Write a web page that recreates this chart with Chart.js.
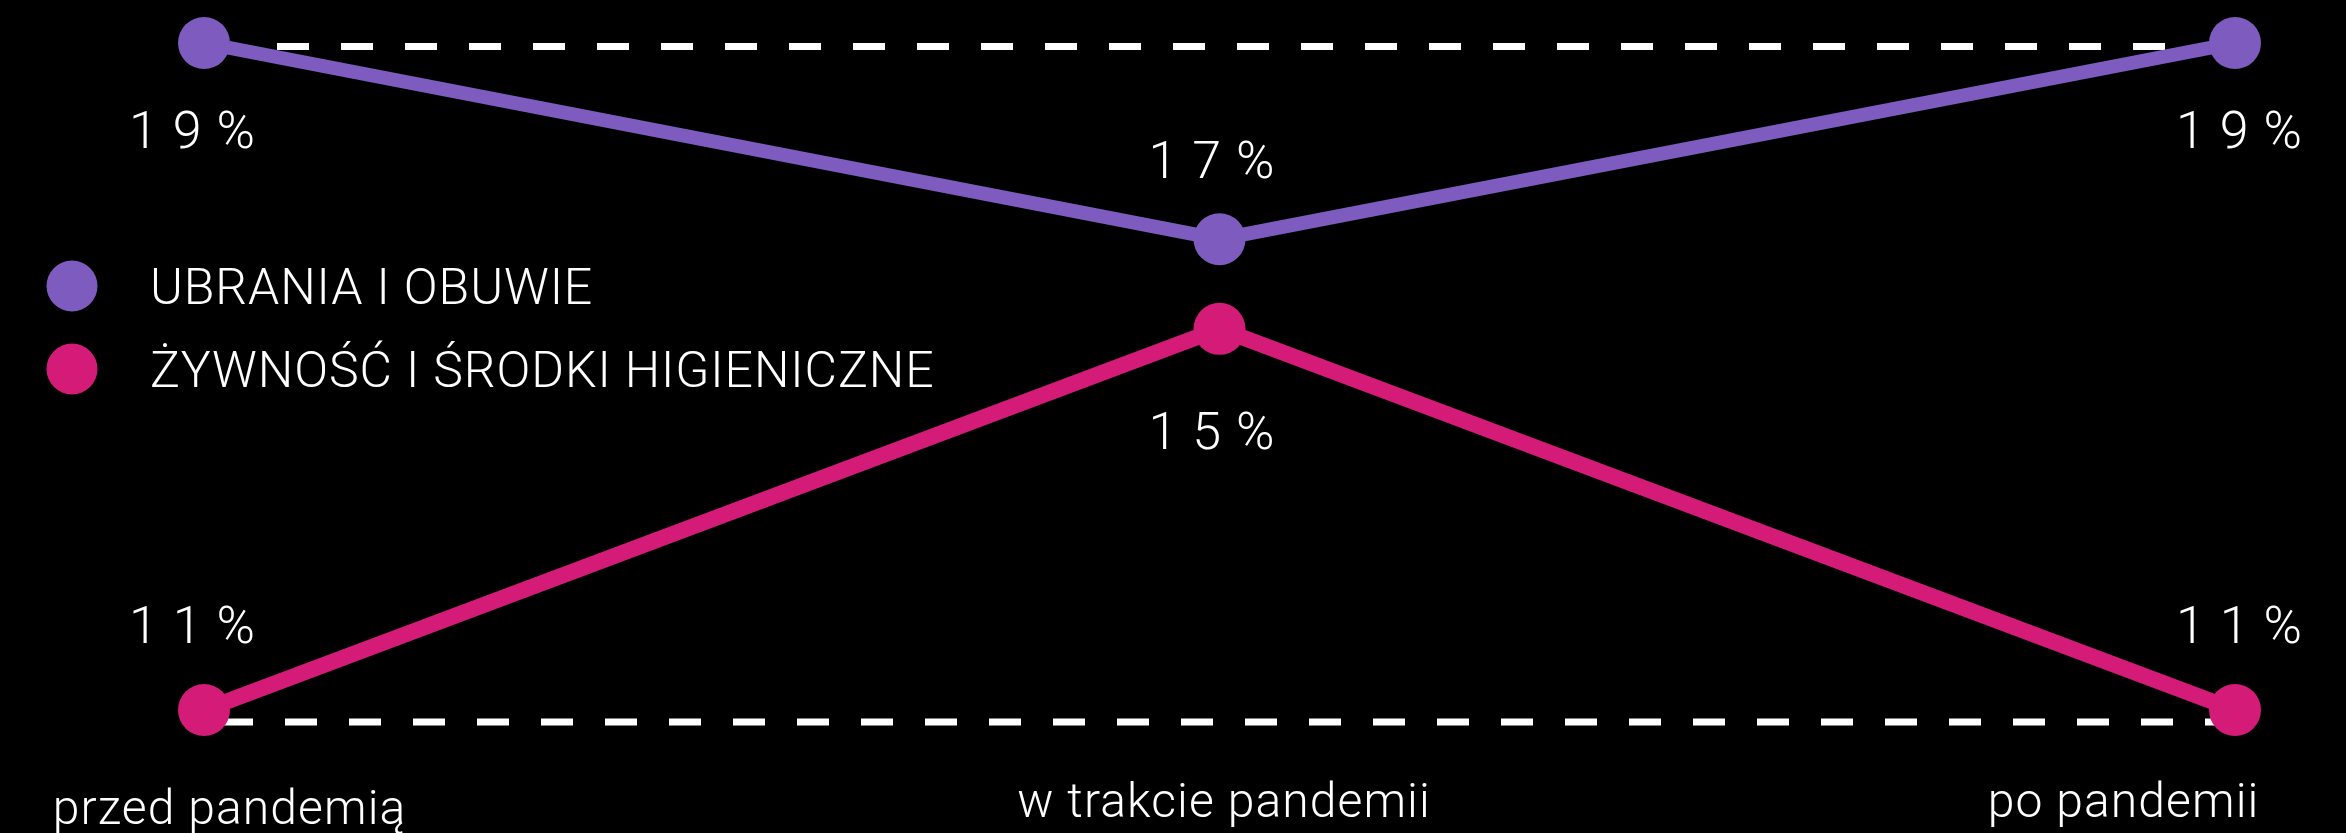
<!DOCTYPE html>
<html lang="pl">
<head>
<meta charset="utf-8">
<title>Wydatki przed, w trakcie i po pandemii</title>
<script src="https://cdn.jsdelivr.net/npm/chart.js@4.4.1/dist/chart.umd.min.js"></script>
<style>
  html, body { margin: 0; padding: 0; background: #000; overflow: hidden; }
  #wrap { position: relative; width: 2346px; height: 833px; }
</style>
</head>
<body>
<div id="wrap"><canvas id="chart"></canvas></div>
<script>
// Categories (periods) and series values, in percent
const categories = ['przed pandemią', 'w trakcie pandemii', 'po pandemii'];
const seriesNames = ['UBRANIA I OBUWIE', 'ŻYWNOŚĆ I ŚRODKI HIGIENICZNE'];
const clothing = [19, 17, 19];
const foodHygiene = [11, 15, 11];

const PURPLE = '#7d5bbf';
const PINK = '#d31b77';
const FONT = 'Roboto';

// Label placement relative to each point (pixels)
const valueDx = [-12, -8, 4];
const valueDy = [[105, -61, 105], [-67, 120, -67]];
const catDx = [25, 4, -112];
const catBaseline = [824, 817, 817];

// value label, spaced out when drawn
function valueText(v) { return v + '%'; }

function drawSpaced(ctx, text, cx, y, spacing) {
  ctx.letterSpacing = spacing + 'px';
  const w = ctx.measureText(text).width - spacing;
  ctx.textAlign = 'left';
  ctx.fillText(text, cx - w / 2, y);
  ctx.letterSpacing = '0px';
}

const decor = {
  id: 'decor',
  beforeDatasetsDraw(chart) {
    const { ctx, scales } = chart;
    const x = scales.x;
    ctx.save();
    ctx.strokeStyle = '#ffffff';
    ctx.lineWidth = 7;
    ctx.setLineDash([32, 32]);
    // reference line at the pre-pandemic level of each series
    const yTop = scales.yA.getPixelForValue(clothing[0]) + 3.5;
    ctx.beginPath();
    ctx.moveTo(x.getPixelForValue(0) + 73, yTop);
    ctx.lineTo(x.getPixelForValue(2) - 68, yTop);
    ctx.stroke();
    const yBot = scales.yB.getPixelForValue(foodHygiene[0]) + 12;
    ctx.beginPath();
    ctx.moveTo(x.getPixelForValue(0) + 17, yBot);
    ctx.lineTo(x.getPixelForValue(2) + 2, yBot);
    ctx.stroke();
    ctx.restore();
  },
  afterDatasetsDraw(chart) {
    const { ctx } = chart;
    ctx.save();
    ctx.fillStyle = '#ffffff';
    ctx.textBaseline = 'alphabetic';

    // value labels
    ctx.font = '300 52px ' + FONT;
    chart.data.datasets.forEach((ds, di) => {
      const meta = chart.getDatasetMeta(di);
      meta.data.forEach((pt, i) => {
        drawSpaced(ctx, valueText(ds.data[i]), pt.x + valueDx[i], pt.y + valueDy[di][i], 15);
      });
    });

    // category labels
    ctx.font = '300 48px ' + FONT;
    categories.forEach((c, i) => {
      drawSpaced(ctx, c, chart.scales.x.getPixelForValue(i) + catDx[i], catBaseline[i], 1.1);
    });

    // legend
    ctx.font = '300 50px ' + FONT;
    ctx.textAlign = 'left';
    chart.data.datasets.forEach((ds, di) => {
      const cy = 286 + di * 83;
      ctx.fillStyle = ds.borderColor;
      ctx.beginPath();
      ctx.arc(72, cy, 25.5, 0, Math.PI * 2);
      ctx.fill();
      ctx.fillStyle = '#ffffff';
      ctx.letterSpacing = '0.9px';
      ctx.fillText(ds.label, 150, cy + 18);
      ctx.letterSpacing = '0px';
    });
    ctx.restore();
  }
};

function build() {
  new Chart(document.getElementById('chart'), {
    type: 'line',
    data: {
      labels: categories,
      datasets: [
        {
          label: seriesNames[0], data: clothing, yAxisID: 'yA',
          borderColor: PURPLE, backgroundColor: PURPLE, pointBackgroundColor: PURPLE,
          pointBorderWidth: 0, borderWidth: 14, pointRadius: 26, pointHoverRadius: 26,
          tension: 0, clip: false
        },
        {
          label: seriesNames[1], data: foodHygiene, yAxisID: 'yB',
          borderColor: PINK, backgroundColor: PINK, pointBackgroundColor: PINK,
          pointBorderWidth: 0, borderWidth: 16, pointRadius: 26, pointHoverRadius: 26,
          tension: 0, clip: false
        }
      ]
    },
    options: {
      responsive: true,
      maintainAspectRatio: false,
      animation: false,
      events: [],
      layout: { padding: { left: 204, right: 111, top: 43, bottom: 123 } },
      plugins: { legend: { display: false }, tooltip: { enabled: false } },
      scales: {
        x: { type: 'category', offset: false, display: false },
        yA: { type: 'linear', min: 12.2, max: 19, display: false },
        yB: { type: 'linear', min: 11, max: 18, display: false }
      }
    },
    plugins: [decor]
  });
}

Promise.all([
  document.fonts.load('300 52px ' + FONT, '19 %'),
  document.fonts.load('300 48px ' + FONT, 'przed pandemią ŻŚĆ')
]).then(build, build);
</script>
</body>
</html>
